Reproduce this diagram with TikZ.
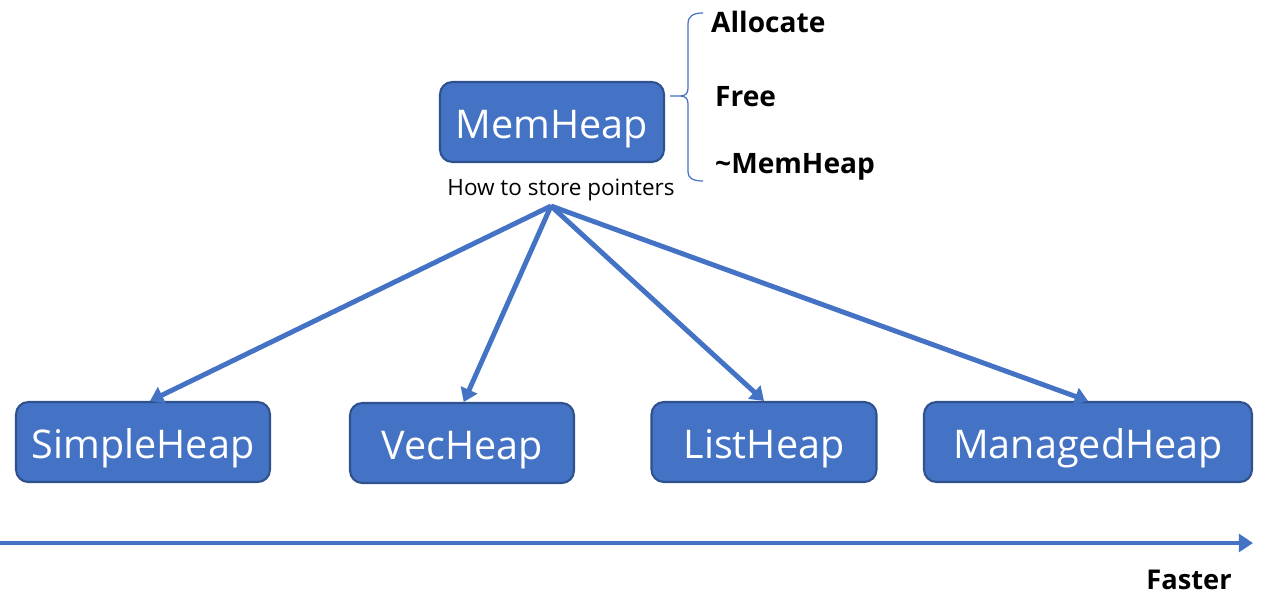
\documentclass[tikz,border=0pt]{standalone}
\usepackage{fontspec}
\setmainfont{Open Sans}
\usetikzlibrary{arrows.meta,positioning}
\usepackage{xcolor}
\definecolor{heapblue}{HTML}{4472C4}
\definecolor{heapedge}{HTML}{2F528F}

\tikzset{
	heap/.style={draw=heapedge, line width=1.2pt, fill=heapblue, rounded corners=7pt,
		minimum height=1.6cm, text height=19pt, text depth=0pt, text=white,
		font=\fontsize{22.5}{26}\selectfont},
	op/.style={anchor=west, font=\fontsize{16}{19}\selectfont\bfseries},
	link/.style={heapblue, line width=2.8pt, -{Triangle[length=7.5pt,width=10pt]}}
}

\begin{document}
\begin{tikzpicture}[x=0.02cm, y=-0.02cm]
	\useasboundingbox (0,0) rectangle (1270,601);
	\node (mem) [heap, minimum width=4.48cm] at (552, 122) {MemHeap};
	\node (how) [below=0.2cm of mem, xshift=0.18cm, font=\fontsize{12.8}{15}\selectfont] {How to store pointers};
	\coordinate (src) at (551, 206);

	\node (simple) [heap, minimum width=5.08cm] at (143, 442) {SimpleHeap};
	\node (vec) [heap, minimum width=4.48cm] at (462, 443) {VecHeap};
	\node (list) [heap, minimum width=4.5cm] at (764, 442) {ListHeap};
	\node (managed) [heap, minimum width=6.56cm] at (1088, 442) {ManagedHeap};

	\draw[link] (src) -- ([xshift=4pt]simple.north);
	\draw[link] (src) -- ([xshift=1pt]vec.north);
	\draw[link] (src) -- (list.north);
	\draw[link] (src) -- (managed.north);

	% member functions
	\node (alloc) [op] at (705, 22) {Allocate};
	\node (free) [op] at (709, 97) {Free};
	\node (dtor) [op] at (709, 167) {\textasciitilde MemHeap};
	\draw[heapblue, line width=0.7pt]
		(703, 13) .. controls (693, 13) and (688, 16) .. (688, 24) -- (688, 88)
		.. controls (688, 93) and (686, 96) .. (680, 96) -- (670, 96)
		(680, 96) .. controls (686, 96) and (688, 99) .. (688, 104) -- (688, 172)
		.. controls (688, 178) and (693, 181) .. (703, 181);

	% speed axis
	\coordinate (axis0) at (0, 543);
	\coordinate (axis1) at (1253, 543);
	\draw[heapblue, line width=2.6pt, -{Triangle[length=8pt,width=10pt]}] (axis0) -- (axis1);
	\node (faster) [font=\fontsize{15.5}{18}\selectfont\bfseries] at (1189, 580) {Faster};
\end{tikzpicture}
\end{document}
